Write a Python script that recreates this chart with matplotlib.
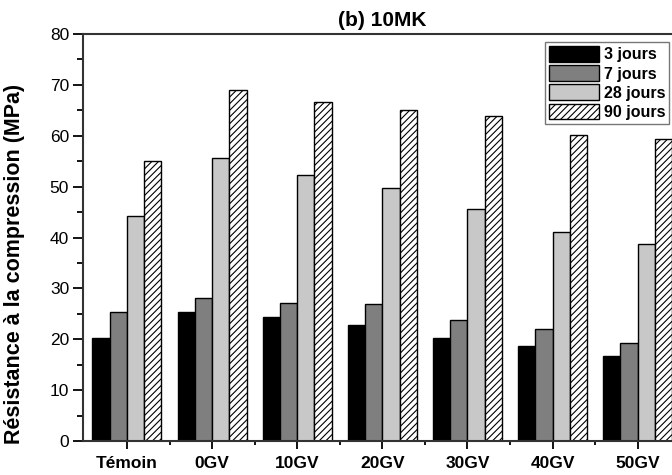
import matplotlib
matplotlib.use("Agg")
import matplotlib.pyplot as plt
import numpy as np
from matplotlib.ticker import MultipleLocator, FixedLocator

plt.rcParams['font.family'] = ['Liberation Sans', 'DejaVu Sans']
plt.rcParams['hatch.linewidth'] = 0.8

categories = ['Témoin', '0GV', '10GV', '20GV', '30GV', '40GV', '50GV']
series_names = ['3 jours', '7 jours', '28 jours', '90 jours']
j3 = [20.3, 25.4, 24.3, 22.8, 20.2, 18.6, 16.8]
j7 = [25.3, 28.1, 27.1, 26.9, 23.8, 22.0, 19.2]
j28 = [44.3, 55.7, 52.3, 49.7, 45.6, 41.1, 38.7]
j90 = [55.0, 68.9, 66.7, 65.1, 63.8, 60.2, 59.4]
series = [j3, j7, j28, j90]

colors = ['#000000', '#7f7f7f', '#c8c8c8', '#ffffff']
hatches = [None, None, None, '/////']

fig = plt.figure(figsize=(6.72, 4.75), dpi=100)
ax = fig.add_axes([83/672, 34/475, (681.7-83)/672, (441-34)/475])

x = np.arange(len(categories))
w = 0.203
for i, (vals, name) in enumerate(zip(series, series_names)):
    ax.bar(x + (i - 1.5) * w, vals, width=w, color=colors[i], edgecolor='black',
           linewidth=1.0, hatch=hatches[i], label=name, zorder=2)

ax.set_xlim(-0.516, len(categories) - 1 + 0.516)
ax.set_ylim(0, 80)
ax.yaxis.set_major_locator(MultipleLocator(10))
ax.yaxis.set_minor_locator(MultipleLocator(5))
ax.set_xticks(x)
ax.set_xticklabels(categories, fontweight='bold', fontsize=12.5)
ax.xaxis.set_minor_locator(FixedLocator(x[:-1] + 0.5))

ax.tick_params(axis='y', which='major', direction='out', length=7, width=1.3,
               labelsize=12.5, pad=3)
ax.tick_params(axis='y', which='minor', direction='out', length=4, width=1.3)
ax.tick_params(axis='x', which='major', direction='out', length=6, width=1.3, pad=5)
ax.tick_params(axis='x', which='minor', direction='out', length=3, width=1.3)

for s in ax.spines.values():
    s.set_linewidth(1.5)
    s.set_color('#333333')

ax.set_ylabel('Résistance à la compression (MPa)', fontweight='bold', fontsize=15.5)
ax.yaxis.set_label_coords(-0.097, 0.435)
ax.set_title('(b) 10MK', fontweight='bold', fontsize=15, pad=6)

leg = fig.legend(loc='upper right', bbox_to_anchor=(669/672, 1 - 42/475),
                 prop={'weight': 'bold', 'size': 11.5}, frameon=True, fancybox=False,
                 edgecolor='#555555', handlelength=3.1, handleheight=1.15,
                 handletextpad=0.3, labelspacing=0.18, borderpad=0.25,
                 borderaxespad=0)
leg.get_frame().set_linewidth(1.0)

fig.savefig('out.png', dpi=100)
